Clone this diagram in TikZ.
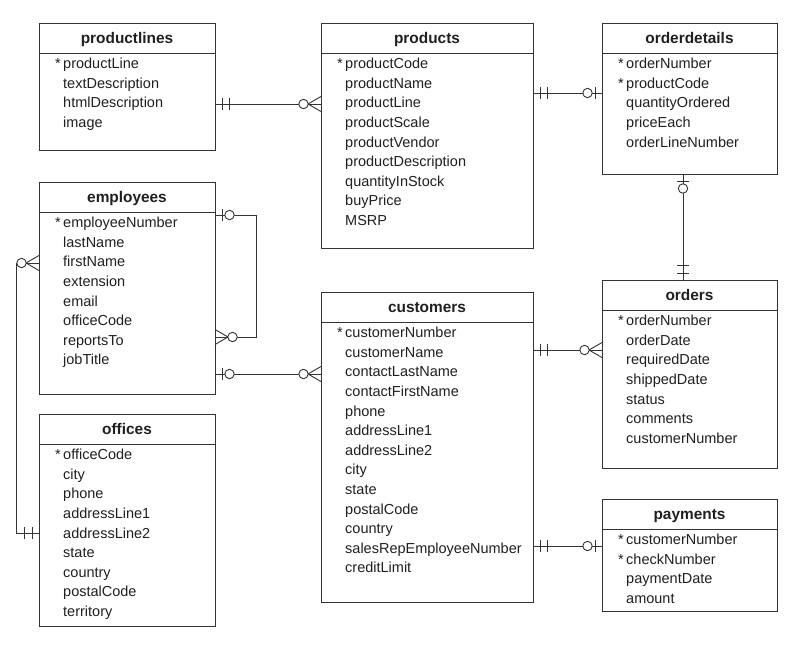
\documentclass[tikz,border=0pt]{standalone}
\usepackage{fontspec}
\setmainfont{Liberation Sans}
\definecolor{linec}{HTML}{333333}
\definecolor{txtc}{HTML}{202020}
\tikzset{
 ln/.style={draw=linec, line width=0.9pt},
 tbox/.style={draw=linec, line width=0.9pt, rectangle, inner sep=0pt, outer sep=0pt, anchor=north west, fill=white},
 ttl/.style={font=\fontsize{15.4}{18}\selectfont\bfseries, text=txtc, inner sep=0pt, text height=11pt, text depth=3.2pt},
 fld/.style={font=\fontsize{14.5}{17}\selectfont, text=txtc, inner sep=0pt, anchor=west, text height=10.4pt, text depth=3pt},
 dbar/.pic={\draw[ln] (7,-6)--(7,6) (14.5,-6)--(14.5,6);},
 zone/.pic={\draw[ln] (7,-6)--(7,6); \draw[ln, fill=white] (14.5,0) circle (4.7);},
 zmany/.pic={\draw[ln] (0,-7.5)--(13,0)--(0,7.5); \draw[ln, fill=white] (17.5,0) circle (4.7);},
}
\newcommand\ertable[8]{%
 \node[tbox, minimum width=#4pt, minimum height=#5pt] (#1) at (#2,#3) {};
 \draw[ln] ([yshift=-30pt]#1.north west) -- ([yshift=-30pt]#1.north east);
 \node[ttl] (#1-t) at ([yshift=-17pt]#1.north) {#6};
 \foreach \f [count=\i] in {#8} {
   \node[fld] (#1-\i) at ({#2+24},{#3+42+(\i-1)*19.6}) {\f};
   \ifnum\i>#7\relax\else \node[fld] (#1-s\i) at ({#2+16},{#3+42+(\i-1)*19.6}) {*};\fi
 }
}
\begin{document}
\begin{tikzpicture}[x=1pt,y=-1pt]
\useasboundingbox[fill=white] (0,0) rectangle (802,656);
\ertable{pl}{39}{23}{176}{127}{productlines}{1}{productLine,textDescription,htmlDescription,image}
\ertable{pr}{321}{23}{212}{225}{products}{1}{productCode,productName,productLine,productScale,productVendor,productDescription,quantityInStock,buyPrice,MSRP}
\ertable{od}{602}{23}{175}{151}{orderdetails}{2}{orderNumber,productCode,quantityOrdered,priceEach,orderLineNumber}
\ertable{em}{39}{182}{176}{212}{employees}{1}{employeeNumber,lastName,firstName,extension,email,officeCode,reportsTo,jobTitle}
\ertable{ord}{602}{280}{175}{188}{orders}{1}{orderNumber,orderDate,requiredDate,shippedDate,status,comments,customerNumber}
\ertable{of}{39}{414}{176}{212}{offices}{1}{officeCode,city,phone,addressLine1,addressLine2,state,country,postalCode,territory}
\ertable{cu}{321}{292}{212}{310}{customers}{1}{customerNumber,customerName,contactLastName,contactFirstName,phone,addressLine1,addressLine2,city,state,postalCode,country,salesRepEmployeeNumber,creditLimit}
\ertable{pa}{602}{499}{175}{112}{payments}{2}{customerNumber,checkNumber,paymentDate,amount}

% productlines - products
\draw[ln] (pl.east |- 0,104) coordinate (r1a) -- (pr.west |- 0,104) coordinate (r1b);
\pic at (r1a) {dbar}; \pic[rotate=180] at (r1b) {zmany};
% products - orderdetails
\draw[ln] (pr.east |- 0,93) coordinate (r2a) -- (od.west |- 0,93) coordinate (r2b);
\pic at (r2a) {dbar}; \pic[rotate=180] at (r2b) {zone};
% orderdetails - orders
\draw[ln] (od.south -| 683,0) coordinate (r3a) -- (ord.north -| 683,0) coordinate (r3b);
\pic[rotate=-90] at (r3a) {zone}; \pic[rotate=90] at (r3b) {dbar};
% employees self loop
\coordinate (loopA) at (256,215);
\coordinate (loopB) at (256,337);
\draw[ln] (em.east |- loopA) coordinate (r4a) -- (loopA) -- (loopB) -- (em.east |- loopB) coordinate (r4b);
\pic at (r4a) {zone}; \pic at (r4b) {zmany};
% employees - customers
\draw[ln] (em.east |- 0,374) coordinate (r5a) -- (cu.west |- 0,374) coordinate (r5b);
\pic at (r5a) {zone}; \pic[rotate=180] at (r5b) {zmany};
% employees - offices
\coordinate (loopC) at (16,263);
\coordinate (loopD) at (16,533);
\draw[ln] (em.west |- loopC) coordinate (r6a) -- (loopC) -- (loopD) -- (of.west |- loopD) coordinate (r6b);
\pic[rotate=180] at (r6a) {zmany}; \pic[rotate=180] at (r6b) {dbar};
% customers - orders
\draw[ln] (cu.east |- 0,350) coordinate (r7a) -- (ord.west |- 0,350) coordinate (r7b);
\pic at (r7a) {dbar}; \pic[rotate=180] at (r7b) {zmany};
% customers - payments
\draw[ln] (cu.east |- 0,546) coordinate (r8a) -- (pa.west |- 0,546) coordinate (r8b);
\pic at (r8a) {dbar}; \pic[rotate=180] at (r8b) {zone};
\end{tikzpicture}
\end{document}
